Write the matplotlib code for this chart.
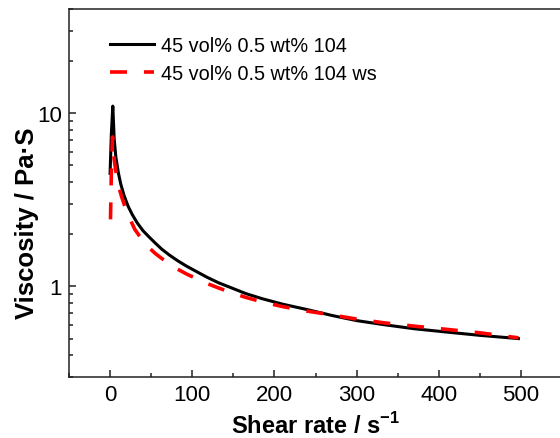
import matplotlib
matplotlib.use("Agg")
import matplotlib.pyplot as plt
from matplotlib.ticker import MultipleLocator, LogLocator, FuncFormatter, NullFormatter

plt.rcParams['font.family'] = ['Liberation Sans', 'DejaVu Sans']
plt.rcParams['mathtext.fontset'] = 'custom'
plt.rcParams['mathtext.rm'] = 'Liberation Sans'
plt.rcParams['mathtext.bf'] = 'Liberation Sans:bold'

# values
rate_104 = [0, 1.5, 3.3, 5, 7, 10, 13, 17, 22, 27, 33, 40, 47, 55, 63, 72, 82, 93,
            105, 118, 132, 148, 165, 185, 210, 240, 270, 300, 335, 370, 410, 450, 497]
visc_104 = [4.5, 7.5, 11.0, 7.1, 5.6, 4.55, 3.9, 3.35, 2.9, 2.6, 2.33, 2.1, 1.94,
            1.78, 1.64, 1.52, 1.41, 1.31, 1.22, 1.13, 1.05, 0.98, 0.91, 0.85, 0.79,
            0.735, 0.68, 0.635, 0.60, 0.57, 0.545, 0.522, 0.50]

rate_ws = [0.5, 1.5, 3, 5, 8, 11, 14, 18, 22, 26, 30, 35, 40, 47, 55, 63, 72, 82,
           93, 105, 118, 132, 148, 165, 185, 210, 240, 270, 300, 335, 370, 410, 450, 497]
visc_ws = [2.44, 4.5, 7.3, 5.4, 4.3, 3.7, 3.3, 2.9, 2.6, 2.35, 2.14, 1.98, 1.84,
           1.68, 1.55, 1.45, 1.35, 1.26, 1.18, 1.11, 1.04, 0.98, 0.92, 0.865, 0.815,
           0.765, 0.72, 0.685, 0.648, 0.615, 0.59, 0.565, 0.54, 0.505]

label_104 = '45 vol% 0.5 wt% 104'
label_ws = '45 vol% 0.5 wt% 104 ws'

fig = plt.figure(figsize=(5.6, 4.39), dpi=100)
ax = fig.add_axes([69/560, 61/439, 493/560, 368/439])

ax.plot(rate_104, visc_104, color='black', lw=2.2, label=label_104, zorder=3)
ax.plot(rate_ws, visc_ws, color='#ff0000', lw=2.6, dashes=(4.7, 4.7), label=label_ws, zorder=4)

ax.set_yscale('log')
ax.set_xlim(-50, 550)
ax.set_ylim(0.3, 40)

ax.xaxis.set_major_locator(MultipleLocator(100))
ax.xaxis.set_minor_locator(MultipleLocator(50))
ax.yaxis.set_major_locator(LogLocator(base=10))
ax.yaxis.set_minor_locator(LogLocator(base=10, subs=range(2, 10)))
ax.yaxis.set_major_formatter(FuncFormatter(lambda v, p: '%g' % v))
ax.yaxis.set_minor_formatter(NullFormatter())

ax.tick_params(which='both', direction='in', top=False, right=False,
               width=1.1, color='#222222', labelsize=16, pad=5)
ax.tick_params(which='major', length=5)
ax.tick_params(which='minor', length=3)

for s in ax.spines.values():
    s.set_linewidth(1.1)
    s.set_color('#222222')
ax.spines['right'].set_visible(False)

ax.set_xlabel(r'Shear rate / s$^{\mathbf{-1}}$', fontsize=17, fontweight='bold')
ax.set_ylabel('Viscosity / Pa·S', fontsize=18.5, fontweight='bold')
ax.xaxis.set_label_coords(0.5, -0.094)
ax.yaxis.set_label_coords(-0.061, 0.42)

ax.legend(loc='upper left', bbox_to_anchor=(0.083, 0.927), frameon=False,
          fontsize=14.3, handlelength=2.2, handletextpad=0.35, labelspacing=0.45,
          borderpad=0, borderaxespad=0)

fig.savefig('out.png', dpi=100)
